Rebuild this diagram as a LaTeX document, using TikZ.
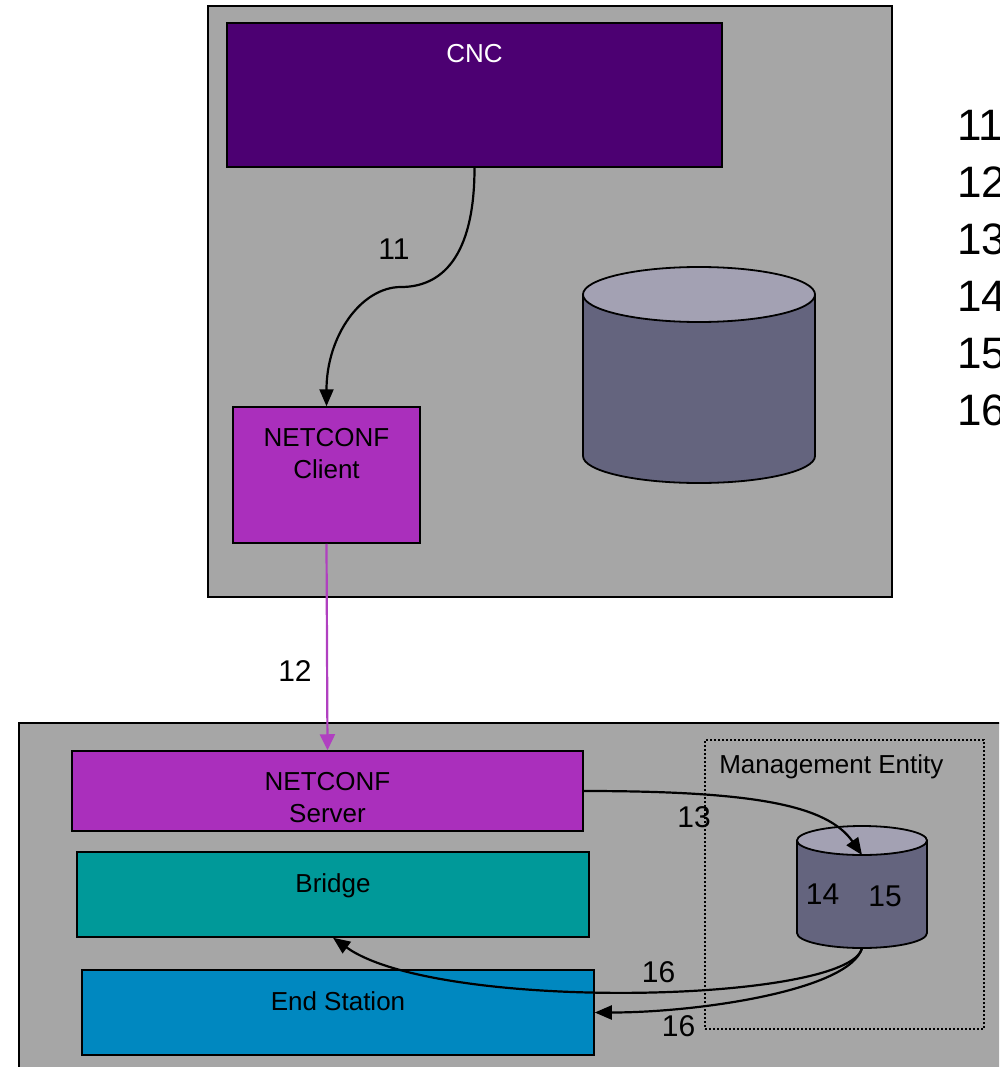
\documentclass[tikz,border=0pt]{standalone}
\usepackage{fontspec}
\setmainfont{Liberation Sans}
\usetikzlibrary{positioning,calc,arrows.meta}

\definecolor{framegray}{HTML}{A6A6A6}
\definecolor{cncpurple}{HTML}{4C0072}
\definecolor{ncpurple}{HTML}{AA2FBC}
\definecolor{linkpurple}{HTML}{B040C0}
\definecolor{bridgeteal}{HTML}{009999}
\definecolor{stationblue}{HTML}{0088C0}
\definecolor{storetop}{HTML}{A3A1B3}
\definecolor{storebody}{HTML}{64647E}

\tikzstyle{frame}=[draw=black, line width=1.5pt, fill=framegray, inner sep=0pt]
\tikzstyle{unit}=[draw=black, line width=1.5pt, inner sep=0pt]
\tikzstyle{boxtext}=[inner sep=0pt, align=center, font=\fontsize{26}{32}\selectfont]
\tikzstyle{numlabel}=[inner sep=0pt, font=\fontsize{30}{36}\selectfont]
\tikzstyle{store}=[draw=black, line width=1.8pt]
\tikzstyle{flow}=[draw=black, line width=2.2pt, -{Triangle[length=17pt,width=14pt]}]
\tikzstyle{link}=[draw=linkpurple, line width=2.2pt, -{Triangle[length=16pt,width=15pt]}]

\begin{document}
\begin{tikzpicture}[x=1pt, y=-1pt]
  \useasboundingbox (0,0) rectangle (999,1067);
  \fill[white] (0,0) rectangle (999,1067);
  \clip (0,0) rectangle (999,1067);

  \node[frame, minimum width=684pt, minimum height=591pt] (cncframe) at (550,301.5) {};
  \node[unit, fill=cncpurple, minimum width=495pt, minimum height=144pt] (cnc) at (474.5,95) {};
  \node[boxtext, text=white, below=22pt of cnc.north] (cnctext) {CNC};
  \node[unit, fill=ncpurple, minimum width=187pt, minimum height=136pt] (client) at (326.5,475) {};
  \node[boxtext, below=22pt of client.north] (clienttext) {NETCONF\\Client};

  \draw[store, fill=storebody] (583,294.5) -- (583,456)
    arc[start angle=180, end angle=0, x radius=116, y radius=27] -- (815,294.5) -- cycle;
  \draw[store, fill=storetop] (699,294.5) ellipse[x radius=116, y radius=27.5];

  \node[frame, minimum width=1001pt, minimum height=367pt] (devframe) at (519.5,906.5) {};
  \node[unit, fill=ncpurple, minimum width=511pt, minimum height=80pt] (server) at (327.5,791) {};
  \node[boxtext, below=22pt of server.north] (servertext) {NETCONF\\Server};
  \node[unit, fill=bridgeteal, minimum width=512pt, minimum height=85pt] (bridge) at (333,894.5) {};
  \node[boxtext, below=22pt of bridge.north] (bridgetext) {Bridge};
  \node[unit, fill=stationblue, minimum width=512pt, minimum height=85pt] (station) at (338,1012.5) {};
  \node[boxtext, below=22pt of station.north] (stationtext) {End Station};

  \node[draw=black, line width=1.8pt, dash pattern=on 2pt off 2pt, inner sep=0pt,
    minimum width=279pt, minimum height=289pt] (mgmt) at (844.5,884.5) {};
  \node[boxtext, below right=15pt and 15pt of mgmt.north west] (mgmttext) {Management Entity};

  \draw[store, fill=storebody] (797,840.5) -- (797,933)
    arc[start angle=180, end angle=0, x radius=65, y radius=15] -- (927,840.5) -- cycle;
  \draw[store, fill=storetop] (862,840.5) ellipse[x radius=65, y radius=14.5];
  \coordinate (metop) at (862,855);
  \coordinate (mebottom) at (862,948);
  \node[numlabel] (lbl14) at (822.5,894) {14};
  \node[numlabel] (lbl15) at (885,896) {15};

  \node[numlabel] (lbl11) at (394,249) {11};
  \node[numlabel] (lbl12) at (295,671) {12};
  \node[numlabel] (lbl13) at (694,817) {13};
  \node[numlabel] (lbl16a) at (658.5,972.5) {16};
  \node[numlabel] (lbl16b) at (678.5,1026.5) {16};

  \node[inner sep=0pt, anchor=north west, align=left, font=\fontsize{44}{57}\selectfont]
    (steps) at (957,110) {11\\12\\13\\14\\15\\16};

  \draw[flow] (cnc.south) .. controls +(0,90) and +(40,0) .. (401,287)
    .. controls +(-40,0) and +(0,-70) .. (client.north);
  \draw[link] (client.south) -- (server.north);
  \draw[flow] (server.east) .. controls +(170,0) and +(-35,-50) .. (metop);
  \draw[flow] (mebottom) .. controls +(-12,55) and +(105,75) .. (bridge.south);
  \draw[flow] (mebottom) .. controls +(-12,42) and +(105,0) .. (station.east);
\end{tikzpicture}
\end{document}
